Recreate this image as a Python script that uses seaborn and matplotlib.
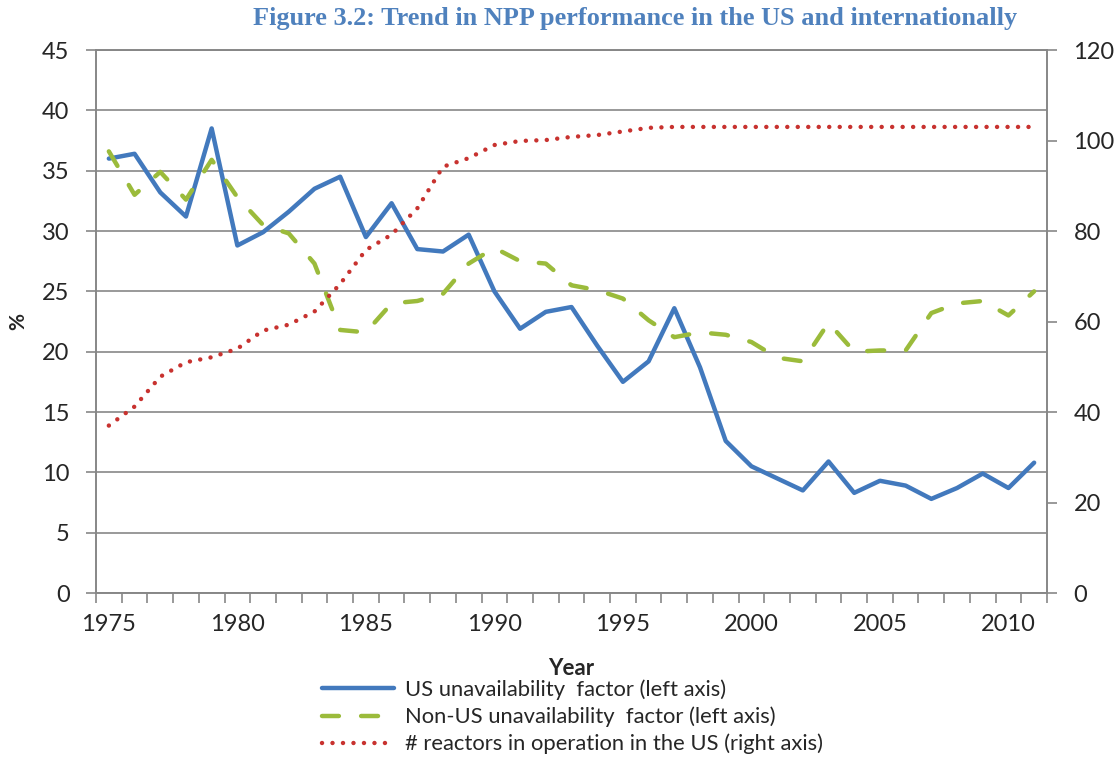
import numpy as np
import pandas as pd
import matplotlib
matplotlib.use("Agg")
import matplotlib.pyplot as plt
import seaborn as sns

# Dữ liệu
years = list(range(1975, 2012))
us_unavail = [36.0, 36.4, 33.2, 31.2, 38.5, 28.8, 29.9, 31.6, 33.5, 34.5,
              29.5, 32.3, 28.5, 28.3, 29.7, 25.0, 21.9, 23.3, 23.7, 20.5,
              17.5, 19.2, 23.6, 18.7, 12.6, 10.5, 9.5, 8.5, 10.9, 8.3,
              9.3, 8.9, 7.8, 8.7, 9.9, 8.7, 10.8]
nonus_unavail = [36.6, 33.0, 34.9, 32.6, 35.9, 32.8, 30.5, 29.8, 27.3, 21.8,
                 21.6, 24.0, 24.2, 24.8, 27.3, 28.6, 27.5, 27.3, 25.5, 25.1,
                 24.4, 22.6, 21.2, 21.6, 21.4, 20.8, 19.5, 19.2, 22.4, 20.0,
                 20.1, 20.1, 23.2, 24.0, 24.2, 23.0, 25.0]
reactors = [37.0, 41.2, 47.8, 51.0, 52.1, 54.0, 58.0, 59.3, 62.2, 68.3,
            75.8, 79.2, 85.0, 94.2, 96.1, 99.0, 99.9, 100.1, 100.8, 101.2,
            102.0, 102.8, 103, 103, 103, 103, 103, 103, 103, 103,
            103, 103, 103, 103, 103, 103, 103]

labels = ["US unavailability  factor (left axis)",
          "Non-US unavailability  factor (left axis)",
          "# reactors in operation in the US (right axis)"]
title = "Figure 3.2: Trend in NPP performance in the US and internationally"

df = pd.DataFrame({"Year": years, "US": us_unavail,
                   "NonUS": nonus_unavail, "Reactors": reactors})

sns.set_style("white")
plt.rcParams["font.family"] = ["Lato", "DejaVu Sans"]

grey = "#878787"
fig = plt.figure(figsize=(11.2, 7.6), dpi=100)
ax = fig.add_axes([96 / 1120, 1 - 593 / 760, (1047 - 96) / 1120, (593 - 50) / 760])
ax2 = ax.twinx()

sns.lineplot(data=df, x="Year", y="US", ax=ax, color="#4279BD", lw=3.2,
             solid_capstyle="round", label=labels[0], legend=False)
sns.lineplot(data=df, x="Year", y="NonUS", ax=ax, color="#9BBB3B", lw=3.2,
             linestyle=(0, (3.8, 5.0)), dash_capstyle="round",
             label=labels[1], legend=False)
sns.lineplot(data=df, x="Year", y="Reactors", ax=ax2, color="#C8322F", lw=3.2,
             linestyle=(0, (0.01, 2.35)), dash_capstyle="round",
             label=labels[2], legend=False)

# Trục trái
ax.set_xlim(1974.5, 2011.5)
ax.set_ylim(0, 45)
ax.set_yticks(np.arange(0, 46, 5))
ax.grid(axis="y", color=grey, lw=1.2)
ax.set_axisbelow(True)
ax.set_xticks(np.arange(1975, 2011, 5))
ax.set_xticks(np.arange(1974.5, 2012, 1), minor=True)
ax.tick_params(axis="x", which="major", length=0, pad=15, labelsize=17)
ax.tick_params(axis="x", which="minor", length=7, width=1.2, color=grey, direction="out", bottom=True)
ax.tick_params(axis="y", length=7, width=1.2, color=grey, direction="out", left=True, pad=12, labelsize=17)
for s in ax.spines.values():
    s.set_color(grey)
    s.set_linewidth(1.2)
ax.set_xlabel("Year", fontsize=16, fontweight="bold", labelpad=17)
ax.set_ylabel("%", fontsize=15, fontweight="bold", labelpad=10)

# Trục phải
ax2.set_ylim(0, 120)
ax2.set_yticks(np.arange(0, 121, 20))
ax2.tick_params(axis="y", length=7, width=1.2, color=grey, direction="out", right=True, pad=12, labelsize=17)
ax2.set_ylabel("")
for s in ax2.spines.values():
    s.set_color(grey)
    s.set_linewidth(1.2)

fig.text(635 / 1120, 1 - 18 / 760, title, ha="center", va="center",
         fontsize=18.9, fontweight="bold", color="#4F81BD",
         family=["Liberation Serif", "DejaVu Serif"])

h1, l1 = ax.get_legend_handles_labels()
h2, l2 = ax2.get_legend_handles_labels()
fig.legend(h1 + h2, l1 + l2, loc="center left", bbox_to_anchor=(322 / 1120, 1 - 717 / 760),
           frameon=False, fontsize=15.8, handlelength=3.3, handletextpad=0.5,
           labelspacing=0.3, borderpad=0, borderaxespad=0)

fig.savefig("out.png", dpi=100)
